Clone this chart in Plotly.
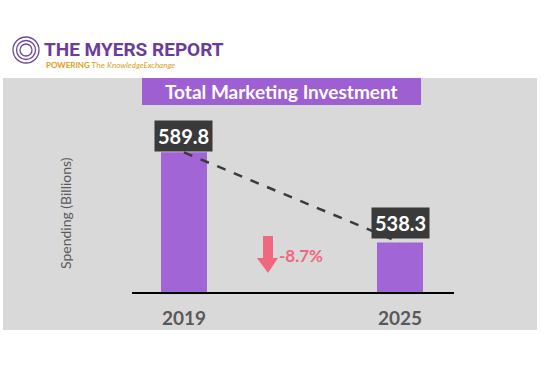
import plotly.graph_objects as go

years = ["2019", "2025"]
spending = [589.8, 538.3]
value_labels = ["589.8", "538.3"]
change_label = "-8.7%"
title_text = "Total Marketing Investment"
y_title = "Spending (Billions)"

W, H = 550, 380

def px(x):
    return x / W

def py(y):
    return 1 - y / H

BAR = "#a265d6"
DARK = "#3a3a3a"
PINK = "#f0687d"
GRAY_TXT = "#595959"

fig = go.Figure()
fig.add_trace(go.Bar(x=years, y=spending, marker=dict(color=BAR, line=dict(width=0)),
                     width=0.213, hoverinfo="skip"))
fig.add_trace(go.Scatter(x=years, y=spending, mode="lines",
                         line=dict(color=DARK, width=2.5, dash="dash"), hoverinfo="skip"))

shapes = []
shapes.append(dict(type="rect", xref="paper", yref="paper", x0=px(3), x1=px(537), y0=py(330), y1=py(78),
                   fillcolor="#d9d9d9", line=dict(width=0), layer="below"))
shapes.append(dict(type="rect", xref="paper", yref="paper", x0=px(142), x1=px(421), y0=py(105), y1=py(78),
                   fillcolor="#9d5fd2", line=dict(width=0), layer="below"))
pts = [(263, 236), (273, 236), (273, 258), (278, 258), (268, 273), (257, 258), (263, 258)]
path = "M " + " L ".join(f"{px(a):.5f},{py(b):.5f}" for a, b in pts) + " Z"
shapes.append(dict(type="path", xref="paper", yref="paper", path=path, fillcolor=PINK, line=dict(width=0)))
for r in [13, 9.5, 6]:
    shapes.append(dict(type="circle", xref="paper", yref="paper", x0=px(26 - r), x1=px(26 + r),
                       y0=py(50 + r), y1=py(50 - r), line=dict(color="#6a4a9c", width=1.3)))

annotations = []
annotations.append(dict(xref="paper", yref="paper", x=px(281.5), y=py(91.5), text=f"<b>{title_text}</b>",
                        showarrow=False, font=dict(family="Lato", size=19, color="white"),
                        xanchor="center", yanchor="middle"))
for i, (v, lab, sh) in enumerate(zip(spending, value_labels, [0, 3])):
    annotations.append(dict(x=i, y=v, xref="x", yref="y", text=f"<b>{lab}</b>", showarrow=False,
                            font=dict(family="Lato", size=20, color="white"), bgcolor=DARK,
                            borderpad=3, xanchor="center", yanchor="bottom", yshift=sh))
annotations.append(dict(xref="paper", yref="paper", x=px(277), y=py(255), text=f"<b>{change_label}</b>",
                        showarrow=False, font=dict(family="Lato", size=17, color=PINK),
                        xanchor="left", yanchor="middle"))
annotations.append(dict(xref="paper", yref="paper", x=px(65), y=py(213), text=y_title, textangle=-90,
                        showarrow=False, font=dict(family="Lato", size=14, color=GRAY_TXT),
                        xanchor="center", yanchor="middle"))
annotations.append(dict(xref="paper", yref="paper", x=px(42), y=py(49), text="<b>THE MYERS REPORT</b>",
                        showarrow=False, font=dict(family="Roboto", size=19, color="#6a3d9a"),
                        xanchor="left", yanchor="middle"))
annotations.append(dict(xref="paper", yref="paper", x=px(44), y=py(65),
                        text="<b>POWERING</b> The <i>KnowledgeExchange</i>",
                        showarrow=False, font=dict(family="Lato", size=8, color="#d9a021"),
                        xanchor="left", yanchor="middle"))

fig.update_layout(
    width=W, height=H, margin=dict(l=0, r=0, t=0, b=0),
    paper_bgcolor="white", plot_bgcolor="rgba(0,0,0,0)", showlegend=False,
    shapes=shapes, annotations=annotations,
    xaxis=dict(domain=[px(132), px(454)], type="category", range=[-0.2407, 1.25],
               showline=True, linecolor="black", linewidth=1.5, showgrid=False, zeroline=False,
               ticks="outside", ticklen=8, tickcolor="rgba(0,0,0,0)",
               tickfont=dict(family="Lato", size=19, color=GRAY_TXT, weight="bold")),
    yaxis=dict(domain=[py(292), py(110)], range=[510, 614], visible=False, showgrid=False),
)

fig.write_html("out.html", config={"displayModeBar": False})

with open("out.html", "r", encoding="utf-8") as f:
    html = f.read()
html = html.replace("<head>", "<head><style>html,body{margin:0;padding:0;}</style>", 1)
with open("out.html", "w", encoding="utf-8") as f:
    f.write(html)
